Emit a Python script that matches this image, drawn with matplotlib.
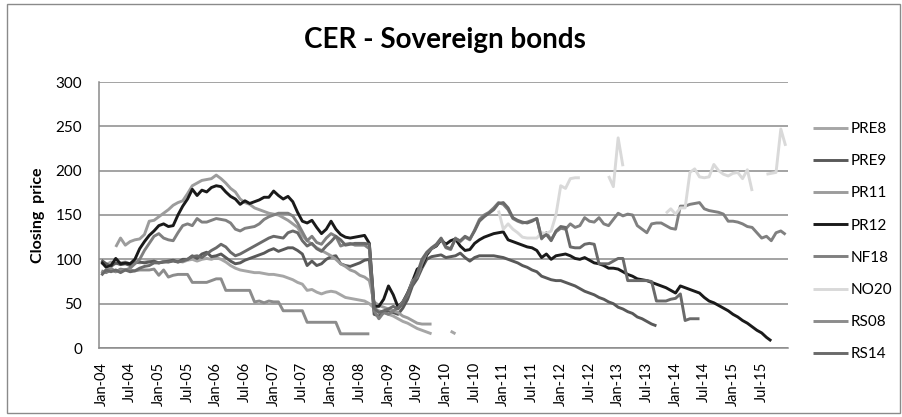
import numpy as np
import matplotlib
matplotlib.use("Agg")
import matplotlib.pyplot as plt
from matplotlib.patches import Rectangle

plt.rcParams['font.family'] = ['Lato', 'DejaVu Sans']

N = 144  # monthly, Jan-04 .. Dec-15
months = ["Jan", "Jul"]
tick_labels = [f"{months[k % 2]}-{4 + k // 2:02d}" for k in range(24)]

# --- series values (start month index, values; None = missing) ---
PRE8_start = 0
PRE8 = [96, 94, 97, 95, 96, 97, 95, 97, 96, 97, 98, 97,
        96, 98, 97, 99, 98, 97, 99, 100, 98, 100, 101, 100,
        102, 100, 97, 93, 90, 88, 87, 86, 85, 85, 84, 83,
        83, 82, 81, 79, 77, 74, 72, 65, 66, 63, 61, 63,
        64, 63, 60, 57, 56, 55, 54, 53, 50, 45, 42, 40,
        38, 36, 33, 30, 28, 25, 22, 20, 18, 16,
        None, None, None, 19, 16]

PRE9_start = 0
PRE9 = [99, 95, 92, 96, 94, 95, 93, 96, 97, 96, 97, 98,
        96, 97, 98, 99, 97, 100, 100, 104, 101, 106, 108, 103,
        104, 106, 102, 98, 95, 96, 99, 101, 103, 105, 107, 110,
        112, 109, 111, 113, 113, 110, 106, 93, 98, 93, 95, 100,
        103, 104, 95, 93, 92, 94, 96, 99, 100, 38, 36, 40,
        42, 40, 38, 45, 55, 70, 78, 90, 100, 103, 104, 105,
        102, 103, 104, 107, 102, 98, 102, 104, 104, 104, 104, 103,
        102, 100, 98, 96, 93, 91, 88, 86, 81, 79, 77, 76,
        76, 74, 72, 70, 67, 64, 62, 60, 57, 55, 52, 50,
        46, 44, 41, 39, 35, 33, 30, 27, 25]

PR11_start = 3
PR11 = [114, 124, 116, 120, 122, 123, 128, 143, 144,
        148, 152, 156, 161, 164, 166, 174, 183, 186, 189, 190, 191,
        195, 191, 186, 180, 176, 168, 164, 162, 158, 156, 154, 152,
        151, 150, 147, 144, 140, 136, 127, 121, 117, 113, 110, 107,
        104, 100, 95, 92, 88, 86, 82, 80, 76, 52, 48, 46,
        44, 42, 40, 36, 34, 31, 28, 27, 27, 27]

PR12_start = 0
PR12 = [97, 91, 93, 101, 95, 96, 95, 100, 112, 120, 127, 132,
        138, 140, 137, 138, 150, 160, 168, 179, 172, 178, 176, 181,
        183, 182, 176, 171, 168, 162, 166, 163, 165, 167, 170, 170,
        177, 172, 168, 171, 165, 153, 143, 141, 144, 136, 129, 134,
        143, 134, 128, 125, 124, 125, 126, 127, 118, 47, 47, 55,
        70, 60, 46, 52, 62, 75, 89, 92, 105, 112, 115, 122,
        117, 121, 123, 115, 110, 111, 118, 122, 125, 127, 129, 130,
        131, 122, 120, 118, 116, 114, 113, 110, 102, 106, 100, 104,
        105, 106, 104, 101, 100, 102, 99, 96, 95, 93, 90, 90,
        89, 86, 83, 81, 78, 77, 76, 74, 72, 70, 68, 65,
        62, 70, 68, 66, 64, 62, 57, 53, 51, 48, 45, 42,
        38, 35, 31, 28, 24, 20, 17, 12, 8]

NF18_start = 0
NF18 = [87, 85, 88, 86, 89, 88, 90, 95, 100, 110, 118, 126,
        129, 124, 122, 121, 130, 138, 140, 138, 146, 142, 142, 144,
        146, 145, 144, 141, 134, 132, 135, 136, 137, 140, 145, 148,
        150, 152, 152, 152, 149, 141, 131, 121, 126, 119, 117, 124,
        129, 126, 115, 117, 118, 116, 116, 116, 112, 42, 33, 40,
        38, 42, 45, 52, 60, 76, 80, 95, 107, 112, 116, 123,
        113, 111, 124, 120, 125, 122, 133, 145, 150, 153, 158, 164,
        162, 156, 146, 143, 141, 142, 144, 146, 123, 130, 122, 131,
        135, 134, 140, 136, 138, 147, 143, 142, 147, 140, 138, 145,
        152, 149, 151, 150, 138, 134, 130, 140, 141, 141, 138, 135,
        134, 160, 160, 162, 163, 164, 157, 155, 154, 153, 151, 143,
        143, 142, 140, 137, 136, 130, 124, 126, 121, 130, 132, 128]

NO20_start = 83
NO20 = [155, 134, 140, 134, 130, 125, 124, 124, 124, 130, 129, 132, 150,
        183, 180, 191, 192, 192,
        None, None, None, None, None,
        194, 182, 237, 205,
        None, None, None, None, None, None, None, None,
        152, 157, 151, 158, 158, 198, 202, 193, 192, 193, 207, 200,
        196, 194, 197, 198, 191, 201, 177,
        None, None,
        196, 197, 198, 247, 228]

RS08_start = 0
RS08 = [84, 88, 90, 86, 88, 88, 88, 87, 88, 88, 88, 89,
        82, 88, 80, 82, 83, 83, 83, 74, 74, 74, 74, 76,
        78, 78, 65, 65, 65, 65, 65, 65, 52, 53, 51, 53,
        52, 52, 42, 42, 42, 42, 42, 29, 29, 29, 29, 29,
        29, 29, 16, 16, 16, 16, 16, 16, 16]

RS14_start = 0
RS14 = [82, 88, 86, 88, 85, 88, 86, 87, 90, 92, 93, 96,
        96, 97, 97, 98, 97, 98, 100, 103, 104, 102, 106, 110,
        113, 117, 114, 108, 104, 106, 109, 112, 115, 118, 121, 124,
        126, 125, 124, 130, 132, 130, 121, 115, 118, 112, 109, 115,
        120, 126, 122, 116, 117, 118, 118, 118, 117, 45, 40, 42,
        44, 47, 44, 50, 62, 72, 84, 100, 108, 113, 117, 124,
        114, 112, 123, 121, 126, 123, 132, 143, 148, 152, 156, 163,
        164, 158, 147, 144, 142, 141, 143, 146, 124, 128, 121, 132,
        137, 136, 114, 113, 113, 117, 118, 117, 95, 95, 95, 98,
        101, 101, 76, 76, 76, 76, 76, 75, 53, 53, 53, 55,
        56, 61, 31, 33, 33, 33]

series = [
    ("PRE8", PRE8_start, PRE8, "#a6a6a6"),
    ("PRE9", PRE9_start, PRE9, "#595959"),
    ("PR11", PR11_start, PR11, "#9c9c9c"),
    ("PR12", PR12_start, PR12, "#1a1a1a"),
    ("NF18", NF18_start, NF18, "#808080"),
    ("NO20", NO20_start, NO20, "#d9d9d9"),
    ("RS08", RS08_start, RS08, "#8c8c8c"),
    ("RS14", RS14_start, RS14, "#6a6a6a"),
]

W, H = 903, 417
fig = plt.figure(figsize=(W / 100, H / 100), dpi=100)
fig.patch.set_facecolor("white")
fig.patches.append(Rectangle((7 / W, 4 / H), 893 / W, 409 / H, transform=fig.transFigure,
                             fill=False, edgecolor="#8a8a8a", linewidth=1.0))

ax = fig.add_axes([99 / W, 1 - 348 / H, 689 / W, 266 / H])

x = np.arange(N)
for name, start, vals, col in series:
    y = np.full(N, np.nan)
    arr = np.array([np.nan if v is None else v for v in vals], dtype=float)
    y[start:start + len(arr)] = arr
    ax.plot(x, y, color=col, lw=2.1, label=name, solid_joinstyle="round",
            solid_capstyle="butt")

ax.set_xlim(-0.5, N - 0.5)
ax.set_ylim(0, 300)
ax.set_yticks(range(0, 301, 50))
ax.yaxis.grid(True, color="#8a8a8a", lw=1.1)
ax.set_axisbelow(True)
ax.set_xticks(np.arange(0, N, 6))
ax.set_xticklabels(tick_labels, rotation=90, fontsize=10.5)
ax.tick_params(axis="x", length=0, pad=10)
ax.tick_params(axis="y", length=0, pad=12, labelsize=11)
for s in ["top", "right"]:
    ax.spines[s].set_visible(False)
for s in ["left", "bottom"]:
    ax.spines[s].set_color("#8a8a8a")
    ax.spines[s].set_linewidth(1.1)

ax.set_ylabel("Closing  price", fontsize=11.5, fontweight="bold", labelpad=8)
fig.text(445 / W, 1 - 40 / H, "CER - Sovereign bonds", ha="center", va="center",
         fontsize=20, fontweight="bold")

leg = ax.legend(loc="upper left", bbox_to_anchor=(813 / W, 1 - 122 / H),
                bbox_transform=fig.transFigure, frameon=False, fontsize=11,
                handlelength=2.3, handletextpad=0.15, labelspacing=1.19,
                borderpad=0, borderaxespad=0)

fig.savefig("out.png", dpi=100)
